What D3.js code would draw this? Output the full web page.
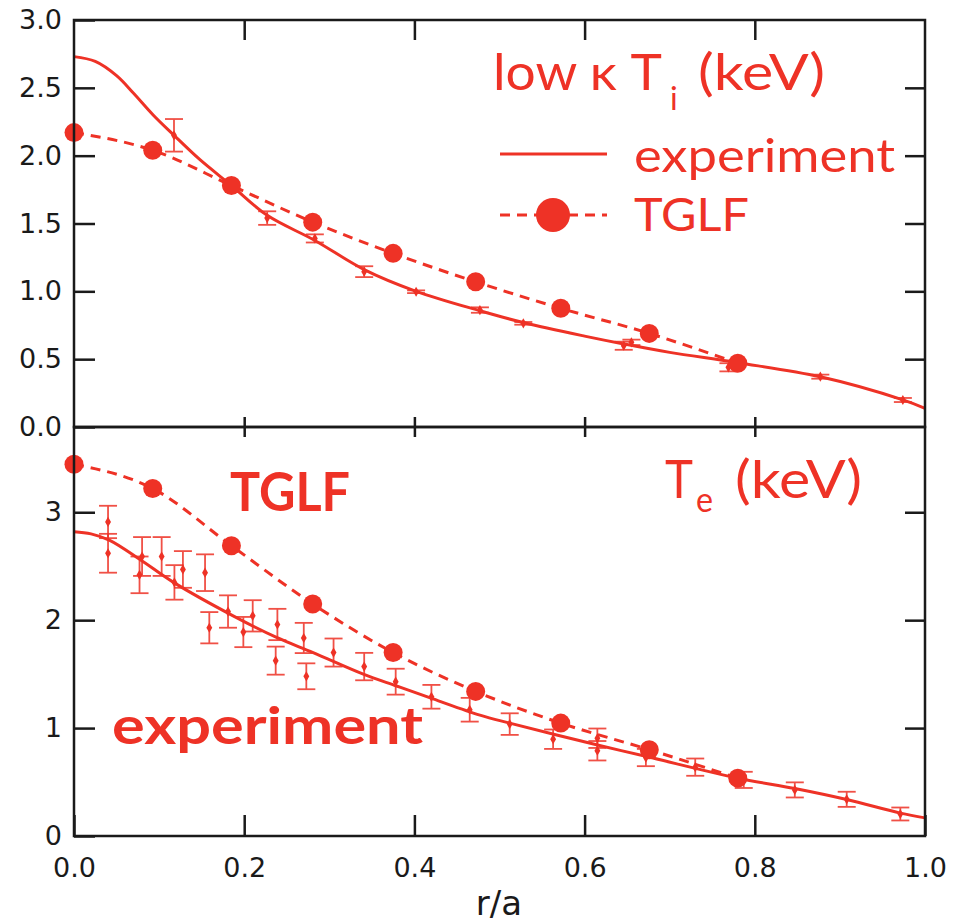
<html>
	<head>
		<meta charset="utf-8">
		<title>Ti / Te profiles</title>
	</head>
	<style>
		body { margin: 0; background: #fff; }
		.tick text { font-family: "DejaVu Sans", sans-serif; font-size: 27px; fill: #1a1a1a; }
		.red { font-family: Lato, "DejaVu Sans", sans-serif; fill: #ee3226; }
	</style>
	<body>
		<script src="https://cdn.jsdelivr.net/npm/d3@7"></script>
		<script>
			var width = 961;
			var height = 922;
			var red = "#ee3226";

			// TGLF radii (shared by both panels)
			var tglfR = [0, 0.0925, 0.185, 0.2805, 0.375, 0.472, 0.572, 0.676, 0.78];
			var tiTglf = [2.17, 2.04, 1.78, 1.51, 1.28, 1.07, 0.875, 0.69, 0.47];
			var teTglf = [3.445, 3.22, 2.69, 2.15, 1.70, 1.34, 1.046, 0.80, 0.536];

			// experiment fit (smooth line)
			var tiFitR = [0, 0.025, 0.05, 0.07, 0.093, 0.1175, 0.148, 0.185, 0.227, 0.283, 0.341, 0.402, 0.477, 0.528, 0.60, 0.646, 0.70, 0.78, 0.877, 0.974, 1.0];
			var tiFitV = [2.73, 2.695, 2.59, 2.46, 2.30, 2.15, 1.97, 1.78, 1.56, 1.375, 1.16, 1.00, 0.857, 0.77, 0.67, 0.612, 0.55, 0.474, 0.37, 0.20, 0.138];
			var teFitR = [0, 0.02, 0.042, 0.078, 0.117, 0.187, 0.238, 0.281, 0.34, 0.379, 0.422, 0.477, 0.512, 0.614, 0.673, 0.78, 0.847, 0.908, 0.971, 1.0];
			var teFitV = [2.82, 2.80, 2.74, 2.56, 2.35, 2.04, 1.84, 1.70, 1.50, 1.39, 1.27, 1.12, 1.046, 0.845, 0.736, 0.536, 0.44, 0.338, 0.212, 0.168];

			// experiment data points with error bars
			var tiExpR = [0.1175, 0.227, 0.283, 0.341, 0.402, 0.477, 0.528, 0.646, 0.655, 0.769, 0.877, 0.974];
			var tiExpV = [2.15, 1.54, 1.39, 1.145, 0.997, 0.862, 0.764, 0.599, 0.624, 0.44, 0.371, 0.199];
			var tiExpErr = [0.12, 0.05, 0.03, 0.04, 0.01, 0.02, 0.01, 0.03, 0.02, 0.03, 0.015, 0.015];

			var teExpR = [0.040, 0.040, 0.077, 0.080, 0.103, 0.118, 0.128, 0.154, 0.159, 0.181, 0.199, 0.210, 0.237, 0.239, 0.270, 0.273, 0.305, 0.341, 0.378, 0.420, 0.465, 0.512, 0.563, 0.615, 0.615, 0.672, 0.730, 0.787, 0.847, 0.908, 0.971];
			var teExpV = [2.91, 2.62, 2.42, 2.59, 2.59, 2.35, 2.47, 2.44, 1.93, 2.08, 1.89, 2.04, 1.625, 1.96, 1.835, 1.48, 1.70, 1.57, 1.43, 1.29, 1.17, 1.037, 0.897, 0.906, 0.79, 0.727, 0.638, 0.52, 0.427, 0.34, 0.204];
			var teExpErr = [0.15, 0.18, 0.17, 0.18, 0.18, 0.16, 0.17, 0.17, 0.145, 0.15, 0.14, 0.145, 0.13, 0.145, 0.14, 0.12, 0.13, 0.127, 0.12, 0.11, 0.11, 0.10, 0.09, 0.09, 0.09, 0.08, 0.08, 0.075, 0.07, 0.07, 0.06];

			var xTicks = [0, 0.2, 0.4, 0.6, 0.8, 1.0];
			var tiTicks = [0, 0.5, 1.0, 1.5, 2.0, 2.5, 3.0];
			var teTicks = [0, 1, 2, 3];

			var svg = d3.select("body")
				.append("svg")
				.attr("width", width)
				.attr("height", height);

			var x = d3.scaleLinear().domain([0, 1]).range([74, 925]);
			var yTi = d3.scaleLinear().domain([0, 3]).range([427, 20]);
			var yTe = d3.scaleLinear().domain([0, 3.79]).range([836, 427]);

			function zip(a, b, e) {
				return a.map(function(d, i) { return {r: d, v: b[i], e: e ? e[i] : 0}; });
			}

			function frame(y, topTick, botTick, yTickVals, showXLabels) {
				var inner = [0.2, 0.4, 0.6, 0.8];
				var g = svg.append("g");
				// left axis with labels
				g.append("g")
					.attr("transform", "translate(" + x(0) + ",0)")
					.call(d3.axisLeft(y).tickValues(yTickVals).tickSize(-21).tickSizeOuter(0).tickPadding(12)
						.tickFormat(yTickVals.length > 4 ? d3.format(".1f") : d3.format("d")));
				// right axis, ticks only
				g.append("g")
					.attr("transform", "translate(" + x(1) + ",0)")
					.call(d3.axisRight(y).tickValues(yTickVals.slice(1, -1).concat(yTickVals.length > 4 ? [] : [yTickVals[yTickVals.length - 1]]))
						.tickSize(-20).tickSizeOuter(0).tickFormat(""));
				// top ticks
				g.append("g")
					.attr("transform", "translate(0," + y.range()[1] + ")")
					.call(d3.axisTop(x).tickValues(inner).tickSize(-topTick).tickSizeOuter(0).tickFormat(""));
				// bottom ticks
				g.append("g")
					.attr("transform", "translate(0," + y.range()[0] + ")")
					.call(d3.axisBottom(x).tickValues(showXLabels ? xTicks : inner).tickSize(-botTick).tickSizeOuter(0).tickPadding(22)
						.tickFormat(showXLabels ? d3.format(".1f") : ""));
				g.selectAll(".domain").remove();
				g.selectAll(".tick line").attr("stroke", "#1a1a1a").attr("stroke-width", 2.5);
				g.append("rect")
					.attr("x", x(0)).attr("y", y.range()[1])
					.attr("width", x(1) - x(0)).attr("height", y.range()[0] - y.range()[1])
					.attr("fill", "none").attr("stroke", "#1a1a1a").attr("stroke-width", 2.5);
			}

			function panel(y, fit, pts, tglf) {
				var g = svg.append("g");
				var fitLine = d3.line()
					.x(function(d) { return x(d.r); })
					.y(function(d) { return y(d.v); })
					.curve(d3.curveCatmullRom.alpha(0.5));
				var dashLine = d3.line()
					.x(function(d) { return x(d.r); })
					.y(function(d) { return y(d.v); })
					.curve(d3.curveMonotoneX);

				// error bars
				var eb = g.selectAll(".eb").data(pts).enter().append("g")
					.attr("stroke", red).attr("stroke-width", 1.8).attr("opacity", 0.85);
				eb.append("line")
					.attr("x1", function(d) { return x(d.r); }).attr("x2", function(d) { return x(d.r); })
					.attr("y1", function(d) { return y(d.v - d.e); }).attr("y2", function(d) { return y(d.v + d.e); });
				eb.append("line")
					.attr("x1", function(d) { return x(d.r) - 9; }).attr("x2", function(d) { return x(d.r) + 9; })
					.attr("y1", function(d) { return y(d.v + d.e); }).attr("y2", function(d) { return y(d.v + d.e); });
				eb.append("line")
					.attr("x1", function(d) { return x(d.r) - 9; }).attr("x2", function(d) { return x(d.r) + 9; })
					.attr("y1", function(d) { return y(d.v - d.e); }).attr("y2", function(d) { return y(d.v - d.e); });
				g.selectAll(".dm").data(pts).enter().append("path")
					.attr("d", d3.symbol(d3.symbolDiamond, 30))
					.attr("transform", function(d) { return "translate(" + x(d.r) + "," + y(d.v) + ")"; })
					.attr("fill", red);

				// fit line
				g.append("path").datum(fit)
					.attr("d", fitLine)
					.attr("fill", "none").attr("stroke", red).attr("stroke-width", 3);

				// TGLF dashed
				g.append("path").datum(tglf)
					.attr("d", dashLine)
					.attr("fill", "none").attr("stroke", red).attr("stroke-width", 3)
					.attr("stroke-dasharray", "10,7");
				g.selectAll(".tg").data(tglf).enter().append("circle")
					.attr("cx", function(d) { return x(d.r); })
					.attr("cy", function(d) { return y(d.v); })
					.attr("r", 9.5)
					.attr("fill", red);
			}

			panel(yTi, zip(tiFitR, tiFitV), zip(tiExpR, tiExpV, tiExpErr), zip(tglfR, tiTglf));
			panel(yTe, zip(teFitR, teFitV), zip(teExpR, teExpV, teExpErr), zip(tglfR, teTglf));

			frame(yTi, 20, 10, tiTicks, false);
			frame(yTe, 10, 21, teTicks, true);

			function label(txt, px, py, size, len, weight) {
				var t = svg.append("text").attr("class", "red")
					.attr("x", px).attr("y", py)
					.attr("font-size", size)
					.attr("font-weight", weight || 400)
					.text(txt);
				if (len) t.attr("textLength", len).attr("lengthAdjust", "spacingAndGlyphs");
				return t;
			}

			// top panel title and legend
			label("low κ T", 493, 90, 50, 169);
			label("i", 670, 110, 32);
			label("(keV)", 698, 90, 50, 127);
			svg.append("line").attr("x1", 500).attr("x2", 607).attr("y1", 154).attr("y2", 154)
				.attr("stroke", red).attr("stroke-width", 3);
			svg.append("line").attr("x1", 500).attr("x2", 607).attr("y1", 215).attr("y2", 215)
				.attr("stroke", red).attr("stroke-width", 3).attr("stroke-dasharray", "10,7");
			svg.append("circle").attr("cx", 553).attr("cy", 215).attr("r", 17).attr("fill", red);
			label("experiment", 634, 172, 46, 261);
			label("TGLF", 634, 231, 47, 115);

			// bottom panel labels
			label("T", 665, 498, 52, 28);
			label("e", 696, 512, 34, 17);
			label("(keV)", 735, 498, 52, 127);
			label("TGLF", 230, 511, 54, 120, 700);
			label("experiment", 112, 744, 52, 311, 700);

			svg.append("text")
				.attr("x", 499).attr("y", 915)
				.attr("text-anchor", "middle")
				.attr("font-family", "DejaVu Sans, sans-serif")
				.attr("font-size", 34)
				.attr("fill", "#1a1a1a")
				.text("r/a");
		</script>
	</body>
</html>
